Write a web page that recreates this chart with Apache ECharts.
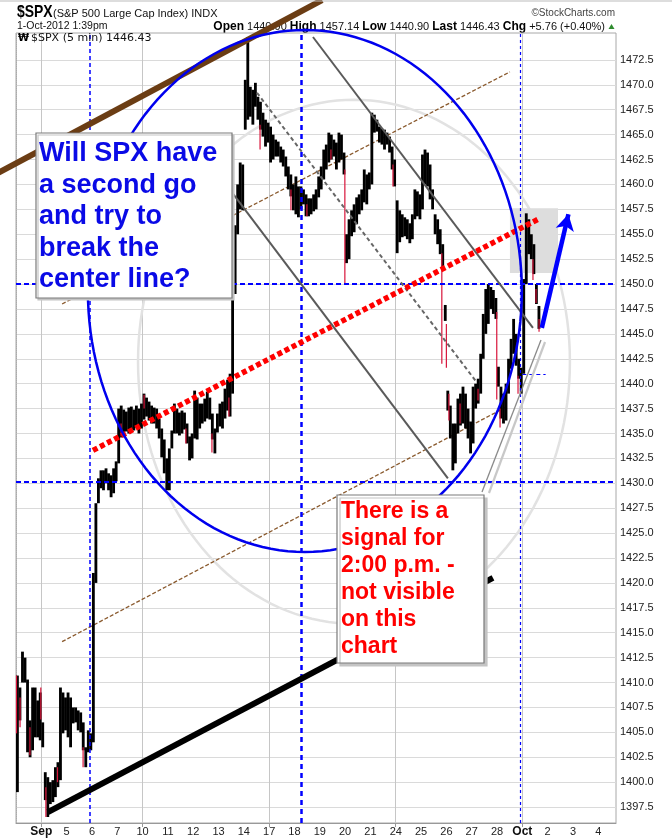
<!DOCTYPE html>
<html><head><meta charset="utf-8">
<script src="https://cdn.jsdelivr.net/npm/echarts@6/dist/echarts.min.js"></script>
<style>html,body{margin:0;padding:0;background:#fff}#c{width:672px;height:840px}</style>
</head><body><div id="c"></div>
<script>
// ---- axis labels ----
const dayLabels = ['Sep','5','6','7','10','11','12','13','14','17','18','19','20','21','24','25','26','27','28','Oct','2','3','4'];
const labelDays = [1,2,3,4,5,6,7,8,9,10,11,12,13,14,15,16,17,18,19,20,21,22,23];
const weekStarts = [1,5,10,15,20];
const priceTicks = [1397.5,1400,1402.5,1405,1407.5,1410,1412.5,1415,1417.5,1420,1422.5,1425,1427.5,1430,1432.5,1435,1437.5,1440,1442.5,1445,1447.5,1450,1452.5,1455,1457.5,1460,1462.5,1465,1467.5,1470,1472.5];

// ---- $SPX 5-min price ranges, grouped into 10 slots per session (Aug 31 .. Oct 1 1:39pm) ----
const barsPerDay = 10;
const barLow = [
 1399.0,1406.2,1410.0,1410.0,1403.0,1402.5,1403.2,1404.5,1404.5,1404.2, // Aug 31
 1403.5,1398.2,1396.5,1397.8,1398.0,1398.5,1399.5,1400.2,1404.9,1405.2, // Sep 4
 1404.5,1403.5,1405.9,1406.0,1405.2,1405.0,1403.2,1401.5,1403.0,1403.2, // Sep 5
 1404.0,1420.0,1428.0,1429.5,1429.3,1430.0,1429.3,1428.6,1429.0,1430.2, // Sep 6
 1432.0,1434.6,1434.8,1435.2,1435.0,1435.4,1435.3,1435.6,1435.0,1435.5, // Sep 7
 1436.4,1436.7,1436.3,1436.0,1436.0,1435.5,1434.5,1432.6,1431.0,1429.3, // Sep 10
 1429.3,1433.5,1435.0,1435.0,1434.8,1435.0,1435.4,1434.0,1432.3,1432.5, // Sep 11
 1434.5,1434.4,1435.5,1436.0,1436.2,1436.5,1436.4,1434.4,1433.0,1435.1, // Sep 12
 1435.7,1435.5,1436.5,1437.3,1436.7,1439.0,1449.0,1455.0,1457.5,1457.4, // Sep 13
 1465.5,1466.5,1466.8,1466.0,1467.8,1466.5,1465.5,1464.8,1463.8,1464.2, // Sep 14
 1462.2,1462.5,1462.8,1462.8,1462.2,1461.8,1460.8,1459.5,1458.8,1457.4, // Sep 17
 1457.0,1456.7,1457.5,1458.0,1456.8,1456.8,1457.0,1457.3,1457.5,1458.7, // Sep 18
 1459.5,1460.5,1461.5,1462.2,1462.5,1462.8,1461.5,1462.2,1462.5,1461.0, // Sep 19
 1452.1,1452.5,1454.8,1455.2,1456.0,1457.0,1457.4,1458.2,1458.0,1459.5, // Sep 20
 1460.0,1465.2,1465.3,1464.2,1464.0,1463.5,1464.0,1463.2,1461.5,1459.8, // Sep 21
 1453.1,1454.2,1454.7,1454.8,1454.5,1454.1,1454.5,1456.5,1456.8,1456.5, // Sep 24
 1457.5,1460.0,1459.8,1458.5,1457.5,1455.0,1454.0,1453.0,1451.5,1446.3, // Sep 25
 1437.3,1434.5,1431.3,1432.0,1435.0,1435.8,1436.0,1435.5,1434.5,1433.0, // Sep 26
 1434.0,1437.5,1438.0,1439.0,1442.5,1445.0,1446.0,1447.5,1447.0,1446.5, // Sep 27
 1439.7,1436.5,1436.0,1436.3,1439.0,1441.5,1443.0,1441.8,1440.5,1439.0, // Sep 28
 1441.0,1450.0,1453.0,1452.5,1451.0,1448.0,1445.5                        // Oct 1
];
const barHigh = [
 1410.7,1409.5,1413.1,1412.5,1410.3,1406.2,1409.5,1409.5,1408.2,1409.0,
 1406.0,1401.0,1400.5,1400.0,1400.2,1401.5,1402.0,1409.5,1409.0,1408.5,
 1409.0,1408.5,1407.5,1407.5,1407.2,1407.0,1406.0,1403.5,1405.2,1404.9,
 1421.0,1428.0,1430.5,1431.3,1431.3,1431.5,1431.0,1430.8,1431.5,1432.2,
 1437.5,1437.8,1437.4,1437.2,1437.6,1437.7,1437.4,1437.8,1437.5,1438.0,
 1439.0,1438.6,1438.2,1437.8,1437.6,1437.5,1436.5,1435.5,1434.4,1432.5,
 1433.5,1435.3,1438.0,1437.5,1437.1,1437.3,1437.1,1436.0,1434.7,1435.0,
 1439.3,1438.6,1438.0,1438.0,1438.5,1439.2,1438.6,1437.0,1435.5,1437.0,
 1438.0,1438.2,1439.5,1440.4,1441.0,1449.8,1455.9,1460.0,1462.2,1462.0,
 1470.5,1474.8,1469.8,1469.5,1470.2,1468.8,1468.3,1467.2,1466.5,1466.2,
 1465.8,1465.0,1464.5,1464.3,1463.8,1463.5,1462.8,1461.8,1461.0,1460.0,
 1460.8,1459.8,1459.8,1459.5,1459.0,1458.6,1458.6,1459.0,1459.5,1460.8,
 1461.8,1463.5,1464.0,1465.2,1465.0,1464.5,1464.2,1465.2,1465.0,1463.2,
 1455.0,1456.5,1457.4,1458.0,1458.7,1459.0,1459.5,1461.5,1461.0,1461.2,
 1467.2,1467.0,1466.5,1465.8,1465.6,1465.5,1465.2,1464.8,1463.8,1462.5,
 1458.4,1457.4,1457.0,1456.7,1456.5,1456.1,1457.0,1459.5,1459.3,1459.0,
 1463.0,1463.5,1463.2,1462.0,1459.5,1457.0,1456.5,1455.5,1454.0,1447.9,
 1439.3,1437.8,1436.0,1436.0,1438.5,1439.0,1439.7,1439.0,1437.5,1436.2,
 1439.7,1440.0,1440.5,1443.0,1447.0,1449.5,1450.0,1449.7,1449.4,1448.6,
 1441.7,1439.7,1439.0,1440.0,1442.5,1444.5,1446.5,1445.0,1442.5,1441.6,
 1450.5,1457.1,1456.5,1455.0,1454.0,1450.0,1447.8
];
// red (down) 5-min bars that stand out
const redTime = [0.02,0.16,0.55,0.98,1.18,1.64,2.65,4.15,5.06,6.71,7.74,8.41,9.64,10.86,11.49,12.44,12.99,14.89,16.82,17.0,17.1,17.54,18.25,18.99,19.12,19.83,20.42,20.54,20.66];
const redLow  = [1404.9,1405.5,1402.7,1406.3,1396.5,1400.0,1401.5,1434.7,1437.5,1434.0,1433.1,1436.7,1463.5,1457.4,1456.8,1462.5,1450.0,1459.8,1442.0,1441.6,1436.3,1436.0,1438.3,1438.4,1435.6,1439.0,1450.4,1448.1,1445.2];
const redHigh = [1410.7,1408.5,1405.5,1409.5,1399.5,1401.5,1403.5,1436.0,1438.9,1435.5,1435.0,1438.6,1466.0,1459.5,1458.0,1463.5,1461.5,1462.0,1453.1,1446.0,1439.0,1438.0,1439.5,1447.2,1437.5,1440.8,1452.5,1449.5,1446.5];

// ---- hand-drawn annotations (in day-index / price units) ----
const brownTrend   = [[-0.75,1461.1],[12.09,1478.5]];
const brownUpper   = [[1.82,1448.0],[19.51,1471.3]];
const brownLower   = [[1.82,1414.1],[19.39,1437.7]];
const blackTrend   = [[1.26,1397.0],[18.84,1420.5]];
const redCenter    = [[3.04,1433.3],[20.62,1456.5]];
const grayUpper    = [[11.73,1474.8],[20.42,1445.6]];
const grayLower    = [[8.53,1459.2],[17.06,1430.5]];
const grayMid      = [[9.52,1469.2],[18.21,1440.1]];
const blueEllipse  = [11.41,1449.3,8.57,26.2];
const grayEllipse  = [13.35,1442.2,8.53,26.3];
const greyBox      = [19.51,1451.1,21.41,1457.6];
const arrowPts     = [[20.77,1445.6],[21.82,1457.0]];

const FONT = '"Liberation Sans", Arial, sans-serif';
const bars = barLow.map((lo,i)=>[Math.floor(i/barsPerDay)+((i%barsPerDay)+0.5)/barsPerDay, lo, barHigh[i]]);
const reds = redTime.map((t,i)=>[t, redLow[i], redHigh[i]]);

function ellipseRender(color, width){
  return function(params, api){
    const c = api.coord([api.value(0), api.value(1)]);
    const s = api.size([api.value(2), api.value(3)]);
    const pts = [];
    for (let k=0;k<=160;k++){ const a = k/160*Math.PI*2; pts.push([c[0]+s[0]*Math.cos(a), c[1]+s[1]*Math.sin(a)]); }
    return {type:'polyline', shape:{points:pts}, style:{stroke:color, lineWidth:width, fill:null}};
  };
}
// straight annotation segment drawn through the axes' scales (not clipped to the plot)
function seg(pts, color, width, dash, z){
  return {type:'custom', silent:true, z:z, clip:false, data:[[pts[0][0],pts[0][1],pts[1][0],pts[1][1]]],
    renderItem:function(p,api){
      const a=api.coord([api.value(0),api.value(1)]), b=api.coord([api.value(2),api.value(3)]);
      return {type:'line',shape:{x1:a[0],y1:a[1],x2:b[0],y2:b[1]},
        style:{stroke:color,lineWidth:width,lineDash:dash,lineCap:'butt'}};
    }};
}

const chart = echarts.init(document.getElementById('c'));
chart.setOption({
  animation:false,
  backgroundColor:'#fff',
  grid:{left:16,right:56,top:33,bottom:17,show:true,borderColor:'#a8a8a8',borderWidth:1},
  xAxis:{type:'value',min:0,max:23.7,
    axisLine:{show:true,lineStyle:{color:'#999'}},
    axisTick:{show:true,customValues:weekStarts,length:4,lineStyle:{color:'#999'}},
    axisLabel:{customValues:labelDays,fontSize:11,color:'#222',margin:3,fontFamily:FONT,
      formatter:function(v){const s=dayLabels[Math.round(v)-1]; return (s==='Sep'||s==='Oct')?'{b|'+s+'}':s;},
      rich:{b:{fontWeight:'bold',fontSize:12,color:'#111',fontFamily:FONT}}},
    splitLine:{show:true,lineStyle:{color:'#c6c6c6'}}},
  yAxis:{type:'value',position:'right',min:1395.9,max:1475.2,
    axisLine:{show:true,lineStyle:{color:'#aaa',type:'dotted'}},
    axisTick:{show:false,customValues:priceTicks},
    axisLabel:{customValues:priceTicks,formatter:function(v){return v.toFixed(1);},fontSize:11,color:'#222',margin:4,fontFamily:FONT},
    splitLine:{show:true,lineStyle:{color:'#dadada'}}},
  series:[
    {type:'custom',name:'halo',z:1,silent:true,data:[grayEllipse],renderItem:ellipseRender('#e2e2e2',2.5)},
    {type:'custom',name:'box',z:1,silent:true,data:[greyBox],renderItem:function(p,api){
      const a=api.coord([api.value(0),api.value(3)]), b=api.coord([api.value(2),api.value(1)]);
      return {type:'rect',shape:{x:a[0],y:a[1],width:b[0]-a[0],height:b[1]-a[1]},style:{fill:'#dddddd'}};}},
    seg(brownUpper,'#8a5a2e',1.3,[4,2],2),
    seg(brownLower,'#8a5a2e',1.3,[4,2],2),
    {type:'custom',name:'$SPX',z:3,silent:true,data:bars,encode:{x:0,y:[1,2]},renderItem:function(p,api){
      const t=api.value(0), top=api.coord([t,api.value(2)]), bot=api.coord([t,api.value(1)]);
      const w=api.size([1/barsPerDay,0])[0];
      return {type:'rect',shape:{x:top[0]-w/2,y:top[1],width:w+0.3,height:Math.max(1,bot[1]-top[1])},style:{fill:'#000'}};}},
    {type:'custom',name:'down',z:3,silent:true,data:reds,encode:{x:0,y:[1,2]},renderItem:function(p,api){
      const t=api.value(0), top=api.coord([t,api.value(2)]), bot=api.coord([t,api.value(1)]);
      return {type:'rect',shape:{x:top[0]-0.6,y:top[1],width:1.2,height:Math.max(1,bot[1]-top[1])},style:{fill:'#d8143a'}};}},
    {type:'line',name:'guides',z:4,data:[[0,1400]],symbol:'none',lineStyle:{opacity:0},silent:true,
      markLine:{symbol:'none',silent:true,label:{show:false},lineStyle:{color:'#0000ff'},
        data:[
          {xAxis:2.9,lineStyle:{color:'#0000ff',width:1.5,type:[4,3]}},
          {xAxis:11.27,lineStyle:{color:'#0000ff',width:2.5,type:[5,4]}},
          {xAxis:19.9,lineStyle:{color:'#0000ff',width:1.2,type:[3,3]}},
          {yAxis:1450,lineStyle:{color:'#0000ff',width:2,type:[5,3]}},
          {yAxis:1430.2,lineStyle:{color:'#0000ff',width:2,type:[5,3]}},
          [{coord:[20.0,1440.9],lineStyle:{color:'#0000ff',width:1.2,type:[4,3]}},{coord:[20.92,1440.9]}]
        ]}},
    seg(brownTrend,'#6b3d14',6,null,5),
    seg(blackTrend,'#000',6,null,5),
    seg(grayUpper,'#5a5a5a',2,null,5),
    seg(grayLower,'#5a5a5a',2,null,5),
    seg(grayMid,'#666',2,[4,3],5),
    seg(redCenter,'#ff0000',5.5,[5,3],6),
    {type:'custom',name:'ellipse',z:6,silent:true,data:[blueEllipse],renderItem:ellipseRender('#0000ee',2.5)},
    {type:'line',name:'arrow',z:7,data:[[0,1400]],symbol:'none',lineStyle:{opacity:0},silent:true,
      markLine:{symbol:['none','arrow'],symbolSize:[14,16],silent:true,label:{show:false},
        lineStyle:{color:'#0000ff',width:4.5,type:'solid'},
        data:[[{coord:arrowPts[0]},{coord:arrowPts[1]}]]}}
  ],
  graphic:[
    {type:'line',shape:{x1:0,y1:1,x2:672,y2:1},style:{stroke:'#bbb',lineWidth:1},z:50},
    {type:'text',x:17,y:12.5,scaleX:0.82,style:{text:'$SPX',x:0,y:0,font:'bold 17px '+FONT,fill:'#000',verticalAlign:'middle'},z:40},
    {type:'text',style:{text:'(S&P 500 Large Cap Index) INDX',x:53,y:13.5,font:'11px '+FONT,fill:'#111',verticalAlign:'middle'},z:40},
    {type:'text',style:{text:'©StockCharts.com',x:615,y:13.5,align:'right',font:'10px '+FONT,fill:'#444',verticalAlign:'middle'},z:40},
    {type:'text',style:{text:'1-Oct-2012 1:39pm',x:17,y:26.5,font:'10.5px '+FONT,fill:'#111',verticalAlign:'middle'},z:40},
    {type:'text',style:{text:'{b|Open} 1440.90 {b|High} 1457.14 {b|Low} 1440.90 {b|Last} 1446.43 {b|Chg} +5.76 (+0.40%)',
      x:605,y:26.5,align:'right',verticalAlign:'middle',font:'11px '+FONT,fill:'#111',rich:{b:{font:'bold 12px '+FONT,fill:'#000'}}},z:-1},
    {type:'polygon',shape:{points:[[608.5,29],[614.5,29],[611.5,24]]},style:{fill:'#2e8b2e'},z:40},
    {type:'text',style:{text:'₩',x:18,y:38,font:'bold 10px "DejaVu Sans"',fill:'#000',verticalAlign:'middle'},z:40},
    {type:'text',style:{text:'$SPX (5 min) 1446.43',x:31,y:38,font:'11px "DejaVu Sans"',fill:'#111',verticalAlign:'middle'},z:40},
    // question box
    {type:'rect',shape:{x:36,y:133,width:196,height:165},style:{fill:'#fff',stroke:'#7a7a7a',lineWidth:1.2,shadowColor:'#c4c4c4',shadowOffsetX:2,shadowOffsetY:2,shadowBlur:0},z:60},
    {type:'text',style:{text:'Will SPX have\na second go\nand try to\nbreak the\ncenter line?',x:39,y:138,font:'bold 27px '+FONT,fill:'#0a0ae6',lineHeight:31.5,verticalAlign:'top'},z:61},
    // signal callout
    {type:'line',shape:{x1:489,y1:493,x2:545,y2:342},style:{stroke:'#c8c8c8',lineWidth:2.2},z:59},
    {type:'line',shape:{x1:482,y1:492,x2:541,y2:340},style:{stroke:'#8a8a8a',lineWidth:1.3},z:59},
    {type:'rect',shape:{x:337,y:495,width:147,height:168},style:{fill:'#fff',stroke:'#7a7a7a',lineWidth:1.2,shadowColor:'#c4c4c4',shadowOffsetX:3,shadowOffsetY:3,shadowBlur:0},z:60},
    {type:'text',style:{text:'There is a\nsignal for\n2:00 p.m. -\nnot visible\non this\nchart',x:341,y:498,font:'bold 23px '+FONT,fill:'#ff0000',lineHeight:27,verticalAlign:'top'},z:61}
  ]
});
</script></body></html>
